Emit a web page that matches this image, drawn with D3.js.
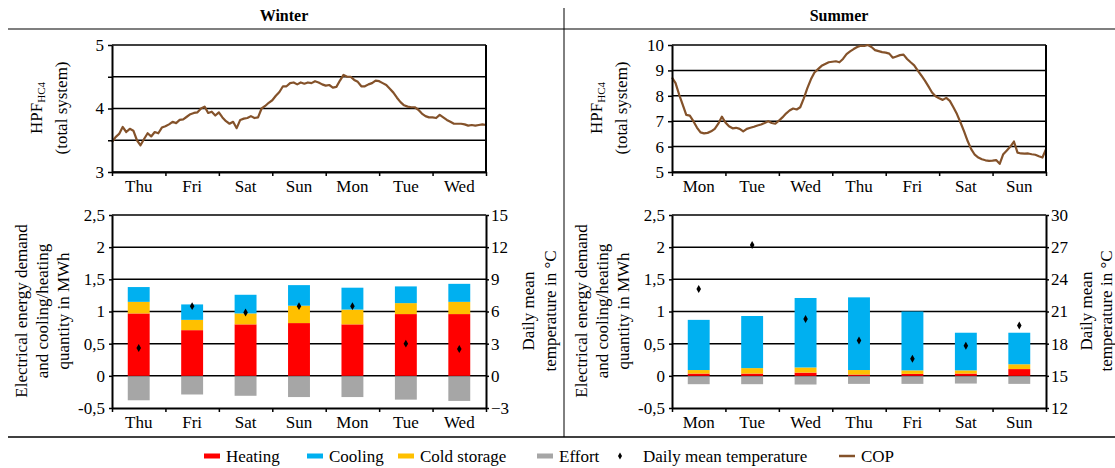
<!DOCTYPE html>
<html>
<head>
<meta charset="utf-8">
<script src="https://cdn.jsdelivr.net/npm/d3@7/dist/d3.min.js"></script>
<style>
body { margin: 0; background: #fff; }
svg text { font-family: "Liberation Serif", "Times New Roman", serif; }
</style>
</head>
<body>
<div id="chart"></div>
<script>
var daysWinter = ["Thu", "Fri", "Sat", "Sun", "Mon", "Tue", "Wed"]
var daysSummer = ["Mon", "Tue", "Wed", "Thu", "Fri", "Sat", "Sun"]

/*daily quantities in MWh (stacked segments), effort drawn below zero*/
var heatingWinter = [0.97, 0.71, 0.80, 0.82, 0.80, 0.96, 0.96]
var coldWinter    = [0.18, 0.16, 0.17, 0.27, 0.23, 0.17, 0.19]
var coolingWinter = [0.23, 0.24, 0.29, 0.32, 0.34, 0.26, 0.28]
var effortWinter  = [-0.38, -0.29, -0.31, -0.33, -0.33, -0.37, -0.39]
var tempWinter    = [2.6, 6.5, 5.9, 6.5, 6.5, 3.0, 2.5]

var heatingSummer = [0.035, 0.035, 0.05, 0.02, 0.03, 0.035, 0.105]
var coldSummer    = [0.055, 0.085, 0.08, 0.07, 0.055, 0.05, 0.075]
var coolingSummer = [0.78, 0.81, 1.08, 1.13, 0.915, 0.585, 0.49]
var effortSummer  = [-0.13, -0.13, -0.135, -0.125, -0.125, -0.12, -0.125]
var tempSummer    = [23.1, 27.2, 20.3, 18.3, 16.6, 17.8, 19.7]

/*HPF over the week, evenly spaced samples from start to end of the 7 days*/
var copWinter = [3.47, 3.55, 3.60, 3.71, 3.63, 3.68, 3.65, 3.50, 3.42, 3.52, 3.61, 3.56, 3.63, 3.61, 3.70,
    3.72, 3.75, 3.79, 3.77, 3.82, 3.83, 3.87, 3.91, 3.93, 3.94, 4.00, 4.03, 3.93, 3.95, 3.89, 3.94, 3.86,
    3.80, 3.76, 3.79, 3.69, 3.82, 3.84, 3.85, 3.88, 3.85, 3.86, 4.00, 4.04, 4.09, 4.13, 4.20, 4.26, 4.35,
    4.35, 4.40, 4.41, 4.38, 4.41, 4.39, 4.41, 4.40, 4.43, 4.41, 4.38, 4.36, 4.37, 4.33, 4.34, 4.44, 4.53,
    4.50, 4.50, 4.45, 4.42, 4.35, 4.35, 4.38, 4.40, 4.44, 4.43, 4.40, 4.37, 4.31, 4.25, 4.17, 4.10, 4.05,
    4.03, 4.02, 4.02, 3.98, 3.92, 3.88, 3.86, 3.86, 3.85, 3.90, 3.86, 3.82, 3.79, 3.76, 3.76, 3.76, 3.75,
    3.73, 3.74, 3.73, 3.74, 3.75, 3.74]
var copSummer = [8.72, 8.50, 8.05, 7.65, 7.25, 7.22, 7.00, 6.75, 6.56, 6.52, 6.54, 6.60, 6.70, 6.90, 7.18,
    6.95, 6.80, 6.72, 6.74, 6.70, 6.60, 6.70, 6.74, 6.78, 6.83, 6.87, 6.93, 7.00, 6.93, 6.90, 7.02, 7.15,
    7.30, 7.42, 7.50, 7.46, 7.55, 7.90, 8.30, 8.65, 8.92, 9.05, 9.18, 9.25, 9.32, 9.34, 9.36, 9.32, 9.45,
    9.64, 9.75, 9.84, 9.92, 9.97, 9.96, 10.0, 9.92, 9.80, 9.76, 9.72, 9.70, 9.66, 9.50, 9.55, 9.60, 9.62,
    9.45, 9.32, 9.20, 8.99, 8.80, 8.60, 8.37, 8.13, 7.98, 7.90, 7.84, 7.92, 7.80, 7.55, 7.28, 6.95, 6.60,
    6.22, 5.90, 5.68, 5.57, 5.50, 5.46, 5.44, 5.45, 5.47, 5.32, 5.70, 5.85, 6.00, 6.20, 5.76, 5.73, 5.72,
    5.73, 5.70, 5.68, 5.62, 5.57, 5.90]

var copGridWinter = [3, 3.5, 4, 4.5, 5]
var copLabelsWinter = [3, 4, 5]
var copGridSummer = [5, 6, 7, 8, 9, 10]
var energyTicks = [-0.5, 0, 0.5, 1, 1.5, 2, 2.5]
var tempTicksWinter = [-3, 0, 3, 6, 9, 12, 15]
var tempTicksSummer = [12, 15, 18, 21, 24, 27, 30]

var legendLabels = ["Heating", "Cooling", "Cold storage", "Effort", "Daily mean temperature", "COP"]

var colHeating = "#ff0000", colCooling = "#00b0f0", colCold = "#ffc000", colEffort = "#a6a6a6", colCop = "#84522a"

var panelWidth = 374
var copTop = 45, copBottom = 172
var barTop = 215, barBottom = 408
var fontSize = 17

var svg = d3.select("#chart").append("svg")
    .attr("width", 1115)
    .attr("height", 468)

function commaFormat(d) { return String(d).replace(".", ",") }

function styleAxis(sel) {
    sel.attr("font-size", fontSize).attr("font-family", "Liberation Serif, serif")
    sel.select(".domain").attr("stroke", "#000").attr("stroke-width", 2)
    sel.selectAll(".tick line").attr("stroke", "#000").attr("stroke-width", 1.5)
    sel.selectAll(".tick text").attr("fill", "#000")
}

function rotatedTitle(y, lines) {
    lines.forEach(function(l) {
        var t = svg.append("text")
            .attr("transform", "translate(" + l.x + "," + y + ") rotate(-90)")
            .attr("text-anchor", "middle")
            .attr("dy", "0.35em")
            .attr("font-size", fontSize)
        t.append("tspan").text(l.text)
        if (l.sub) {
            t.append("tspan").attr("font-size", 11).attr("dy", "0.3em").text(l.sub)
        }
    })
}

/*line chart with HPF of the total system*/
function drawCopChart(left, days, values, yDomain, gridTicks, labelTicks) {
    var g = svg.append("g").attr("transform", "translate(" + left + ",0)")

    var x = d3.scaleLinear().domain([0, 7]).range([0, panelWidth])
    var xDays = d3.scaleBand().domain(days).range([0, panelWidth])
    var y = d3.scaleLinear().domain(yDomain).range([copBottom, copTop])

    g.selectAll(".grid").data(gridTicks).enter().append("line")
        .attr("class", "grid")
        .attr("x1", 0).attr("x2", panelWidth)
        .attr("y1", function(d) { return y(d) }).attr("y2", function(d) { return y(d) })
        .attr("stroke", "#000").attr("stroke-width", 1.5)

    var line = d3.line()
        .x(function(d, i) { return x(i * 7 / (values.length - 1)) })
        .y(function(d) { return y(d) })

    g.append("path").datum(values)
        .attr("d", line)
        .attr("fill", "none")
        .attr("stroke", colCop)
        .attr("stroke-width", 2.2)
        .attr("stroke-linejoin", "round")

    g.append("line")
        .attr("x1", panelWidth).attr("x2", panelWidth)
        .attr("y1", copTop).attr("y2", copBottom)
        .attr("stroke", "#000").attr("stroke-width", 2)

    g.append("g").attr("transform", "translate(0," + copBottom + ")")
        .call(d3.axisBottom(x).tickValues(d3.range(8)).tickSize(4).tickSizeOuter(0).tickFormat(""))
        .call(styleAxis)

    g.append("g").attr("transform", "translate(0," + copBottom + ")")
        .call(d3.axisBottom(xDays).tickSize(0).tickPadding(8))
        .call(styleAxis)
        .select(".domain").remove()

    g.append("g")
        .call(d3.axisLeft(y).tickValues(gridTicks).tickSize(4).tickSizeOuter(0).tickPadding(4)
            .tickFormat(function(d) { return labelTicks.indexOf(d) >= 0 ? d : "" }))
        .call(styleAxis)
}

/*stacked bars with effort and daily mean temperature*/
function drawBarChart(left, days, heating, cold, cooling, effort, temp, tempTicks) {
    var g = svg.append("g").attr("transform", "translate(" + left + ",0)")

    var x = d3.scaleBand().domain(days).range([0, panelWidth])
    var xEdges = d3.scaleLinear().domain([0, 7]).range([0, panelWidth])
    var y = d3.scaleLinear().domain([-0.5, 2.5]).range([barBottom, barTop])
    var yT = d3.scaleLinear().domain([tempTicks[0], tempTicks[tempTicks.length - 1]]).range([barBottom, barTop])
    var barW = x.bandwidth() * 0.41

    g.selectAll(".grid").data(energyTicks.slice(1)).enter().append("line")
        .attr("class", "grid")
        .attr("x1", 0).attr("x2", panelWidth)
        .attr("y1", function(d) { return y(d) }).attr("y2", function(d) { return y(d) })
        .attr("stroke", "#000").attr("stroke-width", 1.5)

    var rows = days.map(function(d, i) {
        return {day: d, heating: heating[i], cold: cold[i], cooling: cooling[i]}
    })
    var layers = d3.stack().keys(["heating", "cold", "cooling"])(rows)
    var colors = {heating: colHeating, cold: colCold, cooling: colCooling}

    g.selectAll(".layer").data(layers).enter().append("g")
        .attr("class", "layer")
        .attr("fill", function(d) { return colors[d.key] })
        .selectAll("rect")
        .data(function(d) { return d })
        .enter().append("rect")
        .attr("x", function(d) { return x(d.data.day) + (x.bandwidth() - barW) / 2 })
        .attr("width", barW)
        .attr("y", function(d) { return y(d[1]) })
        .attr("height", function(d) { return y(d[0]) - y(d[1]) })

    g.selectAll(".effort").data(effort).enter().append("rect")
        .attr("class", "effort")
        .attr("fill", colEffort)
        .attr("x", function(d, i) { return x(days[i]) + (x.bandwidth() - barW) / 2 })
        .attr("width", barW)
        .attr("y", y(0) + 1)
        .attr("height", function(d) { return y(d) - y(0) - 1 })

    g.selectAll(".temp").data(temp).enter().append("path")
        .attr("class", "temp")
        .attr("d", d3.symbol(d3.symbolDiamond).size(18))
        .attr("transform", function(d, i) { return "translate(" + (x(days[i]) + x.bandwidth() / 2) + "," + yT(d) + ")" })
        .attr("fill", "#000")

    g.append("g").attr("transform", "translate(0," + barBottom + ")")
        .call(d3.axisBottom(xEdges).tickValues(d3.range(8)).tickSize(4).tickSizeOuter(0).tickFormat(""))
        .call(styleAxis)

    g.append("g").attr("transform", "translate(0," + barBottom + ")")
        .call(d3.axisBottom(x).tickSize(0).tickPadding(8))
        .call(styleAxis)
        .select(".domain").remove()

    g.append("g")
        .call(d3.axisLeft(y).tickValues(energyTicks).tickSize(3).tickSizeOuter(0).tickPadding(4).tickFormat(commaFormat))
        .call(styleAxis)

    g.append("g").attr("transform", "translate(" + panelWidth + ",0)")
        .call(d3.axisRight(yT).tickValues(tempTicks).tickSize(3).tickSizeOuter(0).tickPadding(2))
        .call(styleAxis)
}

/*frame: headers, separator lines*/
svg.append("line").attr("x1", 8).attr("x2", 1115).attr("y1", 29).attr("y2", 29)
    .attr("stroke", "#7f7f7f").attr("stroke-width", 2)
svg.append("line").attr("x1", 8).attr("x2", 1115).attr("y1", 437).attr("y2", 437)
    .attr("stroke", "#000").attr("stroke-width", 1.5)
svg.append("line").attr("x1", 564).attr("x2", 564).attr("y1", 8).attr("y2", 437)
    .attr("stroke", "#000").attr("stroke-width", 1)

svg.append("text").attr("x", 284).attr("y", 21).attr("text-anchor", "middle")
    .attr("font-size", 16).attr("font-weight", "bold").text("Winter")
svg.append("text").attr("x", 839).attr("y", 21).attr("text-anchor", "middle")
    .attr("font-size", 16).attr("font-weight", "bold").text("Summer")

drawCopChart(112, daysWinter, copWinter, [3, 5], copGridWinter, copLabelsWinter)
drawCopChart(672, daysSummer, copSummer, [5, 10], copGridSummer, copGridSummer)

drawBarChart(112, daysWinter, heatingWinter, coldWinter, coolingWinter, effortWinter, tempWinter, tempTicksWinter)
drawBarChart(672, daysSummer, heatingSummer, coldSummer, coolingSummer, effortSummer, tempSummer, tempTicksSummer)

/*axis titles*/
rotatedTitle(108, [{x: 36, text: "HPF", sub: "HC4"}, {x: 61, text: "(total system)"}])
rotatedTitle(108, [{x: 596, text: "HPF", sub: "HC4"}, {x: 621, text: "(total system)"}])
rotatedTitle(311, [{x: 21, text: "Electrical energy demand"}, {x: 42, text: "and cooling/heating"}, {x: 63, text: "quantity in MWh"}])
rotatedTitle(311, [{x: 581, text: "Electrical energy demand"}, {x: 602, text: "and cooling/heating"}, {x: 623, text: "quantity in MWh"}])
rotatedTitle(311, [{x: 528, text: "Daily mean"}, {x: 550, text: "temperature in °C"}])
rotatedTitle(311, [{x: 1086, text: "Daily mean"}, {x: 1106, text: "temperature in °C"}])

/*legend*/
var legendX = [204, 307, 398, 537, 614, 839]
var legendY = 456
var legend = svg.append("g").attr("class", "legend")
legendLabels.forEach(function(label, i) {
    var lx = legendX[i]
    if (i < 4) {
        legend.append("rect").attr("x", lx).attr("y", legendY - 2.5).attr("width", 16).attr("height", 5)
            .attr("fill", [colHeating, colCooling, colCold, colEffort][i])
    } else if (i == 4) {
        legend.append("path").attr("d", d3.symbol(d3.symbolDiamond).size(14))
            .attr("transform", "translate(" + (lx + 6) + "," + legendY + ")")
    } else {
        legend.append("line").attr("x1", lx).attr("x2", lx + 16).attr("y1", legendY).attr("y2", legendY)
            .attr("stroke", colCop).attr("stroke-width", 2.5)
    }
    legend.append("text")
        .attr("x", lx + (i == 4 ? 29 : 22))
        .attr("y", legendY)
        .attr("dy", "0.35em")
        .attr("font-size", fontSize)
        .text(label)
})
</script>
</body>
</html>
